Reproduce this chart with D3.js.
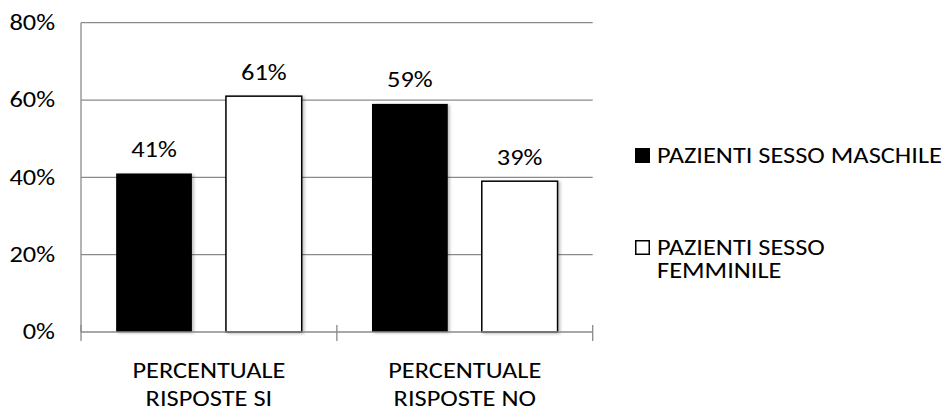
<!DOCTYPE html>
<html>
<head>
<meta charset="utf-8">
<script src="https://cdn.jsdelivr.net/npm/d3@7"></script>
<style>
  html, body { margin: 0; padding: 0; background: #fff; }
  svg { display: block; }
  text { font-family: Carlito, Lato, "Open Sans", sans-serif; fill: #000; }
</style>
</head>
<body>
<svg id="chart" width="949" height="410"></svg>
<script>
// Categories and series
const categories = [["PERCENTUALE", "RISPOSTE SI"], ["PERCENTUALE", "RISPOSTE NO"]];
const categoryKeys = ["SI", "NO"];
const seriesNames = ["PAZIENTI SESSO MASCHILE", "PAZIENTI SESSO FEMMINILE"];
const maleValues = [41, 59];
const femaleValues = [61, 39];
const yTicks = [0, 20, 40, 60, 80];

const svg = d3.select("#chart");
const plot = { left: 81, right: 592.7, top: 22.7, bottom: 332 };
const FS = 23;

// the chart's lettering is set slightly wide; derive the horizontal stretch
const probe = svg.append("text").attr("font-size", FS).text(seriesNames[0]);
const probeW = probe.node().getComputedTextLength();
probe.remove();
const SX = Math.min(1.3, Math.max(0.9, 285 / probeW));

// place a text node at (x, y) with the horizontal stretch applied
function place(sel, x, y) {
  sel.attr("x", 0).attr("y", 0)
    .attr("transform", (d, i) => {
      const px = typeof x === "function" ? x(d, i) : x;
      const py = typeof y === "function" ? y(d, i) : y;
      return `translate(${px},${py}) scale(${SX},1)`;
    });
  return sel;
}

const x0 = d3.scaleBand().domain(categoryKeys).range([plot.left, plot.right]).padding(0);
const x1 = d3.scaleBand().domain([0, 1]).range([0, x0.bandwidth()]).paddingInner(0.31).paddingOuter(0.32);
const y = d3.scaleLinear().domain([0, 80]).range([plot.bottom, plot.top]);

// soft shadow on the bars
const defs = svg.append("defs");
const f = defs.append("filter").attr("id", "shadow").attr("x", "-20%").attr("y", "-20%").attr("width", "140%").attr("height", "140%");
f.append("feDropShadow").attr("dx", 2).attr("dy", 1).attr("stdDeviation", 1.5)
  .attr("flood-color", "#000").attr("flood-opacity", 0.25);

// gridlines
svg.append("g").selectAll("line").data(yTicks.filter(d => d > 0)).join("line")
  .attr("x1", plot.left).attr("x2", plot.right)
  .attr("y1", d => y(d)).attr("y2", d => y(d))
  .attr("stroke", "#8a8a8a").attr("stroke-width", 1.3);

// y axis line
svg.append("line")
  .attr("x1", plot.left).attr("x2", plot.left)
  .attr("y1", y(80)).attr("y2", plot.bottom)
  .attr("stroke", "#8a8a8a").attr("stroke-width", 1.3);

// y tick labels
place(svg.append("g").selectAll("text").data(yTicks).join("text")
  .attr("text-anchor", "end").attr("font-size", FS)
  .text(d => d + "%"), 55, d => y(d) + 7.2);

// bars
const data = categoryKeys.map((k, i) => ({ key: k, values: [maleValues[i], femaleValues[i]] }));
const groups = svg.append("g").selectAll("g").data(data).join("g")
  .attr("transform", d => `translate(${x0(d.key)},0)`);

groups.selectAll("rect").data(d => d.values.map((v, s) => ({ v, s }))).join("rect")
  .attr("x", d => x1(d.s))
  .attr("width", x1.bandwidth())
  .attr("y", d => y(d.v))
  .attr("height", d => plot.bottom - y(d.v))
  .attr("fill", d => d.s === 0 ? "#000" : "#fff")
  .attr("stroke", "#000")
  .attr("stroke-width", d => d.s === 0 ? 0 : 1.5)
  .attr("filter", "url(#shadow)");

// value labels
place(groups.selectAll("text").data(d => d.values.map((v, s) => ({ v, s }))).join("text")
  .attr("text-anchor", "middle").attr("font-size", FS)
  .text(d => d.v + "%"),
  d => x1(d.s) + x1.bandwidth() / 2, d => y(d.v) - 16.5);

// x axis line and tick marks
svg.append("line")
  .attr("x1", plot.left).attr("x2", plot.right)
  .attr("y1", plot.bottom).attr("y2", plot.bottom)
  .attr("stroke", "#8a8a8a").attr("stroke-width", 1.3);
const tickXs = categoryKeys.map(k => x0(k)).concat([x0(categoryKeys[categoryKeys.length - 1]) + x0.bandwidth()]);
svg.append("g").selectAll("line").data(tickXs).join("line")
  .attr("x1", d => d).attr("x2", d => d)
  .attr("y1", plot.bottom - 7).attr("y2", plot.bottom + 9)
  .attr("stroke", "#8a8a8a").attr("stroke-width", 1.3);

// category labels
const cat = place(svg.append("g").selectAll("text").data(categories).join("text")
  .attr("text-anchor", "middle").attr("font-size", FS),
  (d, i) => x0(categoryKeys[i]) + x0.bandwidth() / 2, plot.bottom + 45.7);
cat.selectAll("tspan").data(d => d).join("tspan")
  .attr("x", 0)
  .attr("dy", (d, i) => i === 0 ? 0 : 28.3)
  .text(d => d);

// legend
const legend = svg.append("g");
legend.append("rect").attr("x", 635).attr("y", 148).attr("width", 15).attr("height", 15).attr("fill", "#000");
place(legend.append("text").attr("font-size", FS).text(seriesNames[0]), 657, 162.7);
legend.append("rect").attr("x", 635.75).attr("y", 240.75).attr("width", 13.5).attr("height", 13.5)
  .attr("fill", "#fff").attr("stroke", "#000").attr("stroke-width", 1.5);
const l2 = place(legend.append("text").attr("font-size", FS), 657, 255);
l2.append("tspan").attr("x", 0).text("PAZIENTI SESSO");
l2.append("tspan").attr("x", 0).attr("dy", 23).text("FEMMINILE");
</script>
</body>
</html>
